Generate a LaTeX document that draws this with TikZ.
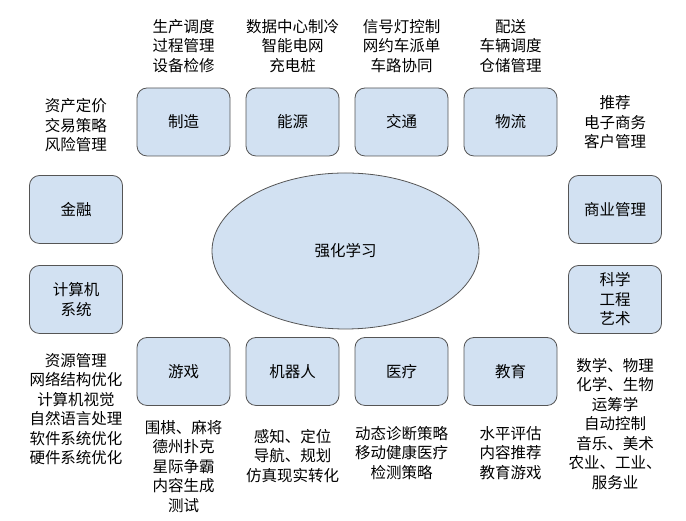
\documentclass[tikz,border=0pt]{standalone}
\usepackage{fontspec}
\setmainfont{Noto Sans CJK SC}
\usepackage{tikz}
\usetikzlibrary{shapes.geometric}
\usetikzlibrary{positioning}
\definecolor{boxblue}{RGB}{210,225,242}
\definecolor{boxline}{RGB}{85,85,85}
\newcommand{\cjksize}{\fontsize{15.5}{19.5}\selectfont}
\tikzstyle{field}=[draw=boxline,fill=boxblue,rounded corners=10pt,line width=0.8pt,
                minimum width=93pt,minimum height=68pt,align=center,font=\cjksize]
\tikzstyle{core}=[draw=boxline,fill=boxblue,ellipse,line width=0.8pt,
                minimum width=267pt,minimum height=156pt,font=\cjksize]
\tikzstyle{uses}=[align=center,inner sep=0pt,font=\cjksize]

\begin{document}
\begin{tikzpicture}[x=1pt,y=1pt,node distance=109pt]
\path[use as bounding box] (0,0) rectangle (686,521);

% top row
\node[field] (zz) at (183.5,399) {制造};
\node[field,right of=zz] (ny) {能源};
\node[field,right of=ny] (jt) {交通};
\node[field,right of=jt] (wl) {物流};

% side columns
\node[field] (jr) at (76,311.5) {金融};
\node[field,node distance=90pt,below of=jr] (js) {计算机\\系统};
\node[field] (sy) at (615,311.5) {商业管理};
\node[field,node distance=90pt,below of=sy] (kx) {科学\\工程\\艺术};

% bottom row
\node[field] (yx) at (183.5,149.5) {游戏};
\node[field,right of=yx] (jq) {机器人};
\node[field,right of=jq] (yl) {医疗};
\node[field,right of=yl] (jy) {教育};

\node[core] (rl) at (345.5,270) {强化学习};

% applications
\node[uses,above=15pt of zz] (zzu) {生产调度\\过程管理\\设备检修};
\node[uses,above=15pt of ny] (nyu) {数据中心制冷\\智能电网\\充电桩};
\node[uses,above=15pt of jt] (jtu) {信号灯控制\\网约车派单\\车路协同};
\node[uses,above=15pt of wl] (wlu) {配送\\车辆调度\\仓储管理};
\node[uses,above=23pt of jr] (jru) {资产定价\\交易策略\\风险管理};
\node[uses,above=26pt of sy] (syu) {推荐\\电子商务\\客户管理};
\node[uses,below=19pt of js] (jsu) {资源管理\\网络结构优化\\计算机视觉\\自然语言处理\\软件系统优化\\硬件系统优化};
\node[uses,below=24pt of kx] (kxu) {数学、物理\\化学、生物\\运筹学\\自动控制\\音乐、美术\\农业、工业、\\服务业};
\node[uses,below=14pt of yx] (yxu) {围棋、麻将\\德州扑克\\星际争霸\\内容生成\\测试};
\node[uses,below=23pt of jq] (jqu) {感知、定位\\导航、规划\\仿真现实转化};
\node[uses,below=20pt of yl] (ylu) {动态诊断策略\\移动健康医疗\\检测策略};
\node[uses,below=20pt of jy] (jyu) {水平评估\\内容推荐\\教育游戏};
\end{tikzpicture}
\end{document}
